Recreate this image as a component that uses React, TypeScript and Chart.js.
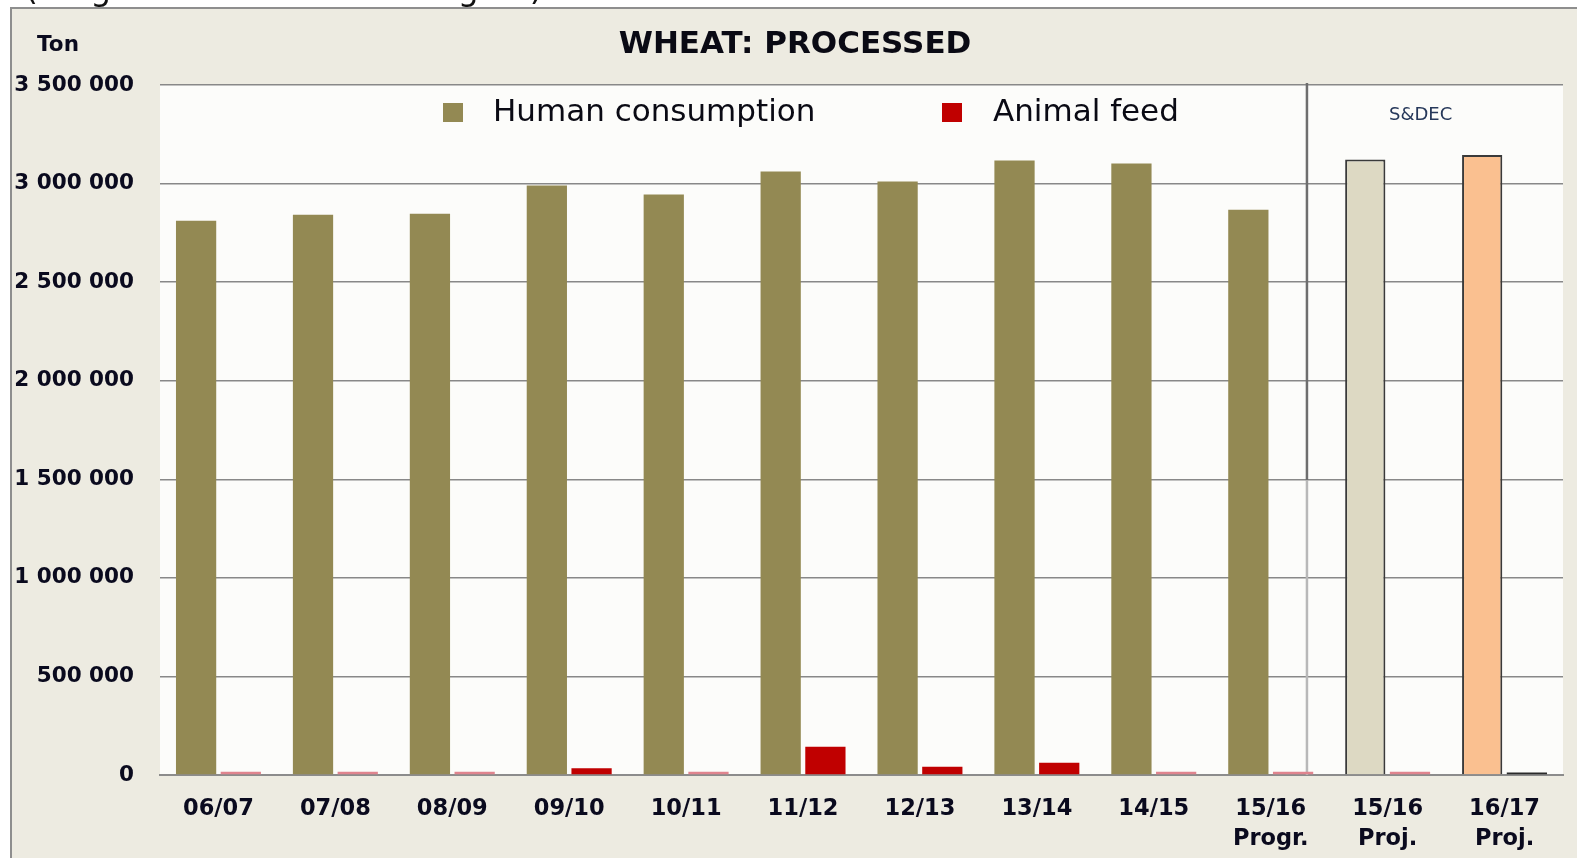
import React, { useEffect, useRef } from "react";
import { Chart, registerables } from "chart.js";

Chart.register(...registerables);

const FONT = '"DejaVu Sans", sans-serif';

const HEADER_TEXT = "(Progressive: October - August)";
const TITLE = "WHEAT: PROCESSED";
const UNIT = "Ton";
const SECTION_LABEL = "S&DEC";

const CATEGORIES: string[][] = [
  ["06/07"],
  ["07/08"],
  ["08/09"],
  ["09/10"],
  ["10/11"],
  ["11/12"],
  ["12/13"],
  ["13/14"],
  ["14/15"],
  ["15/16", "Progr."],
  ["15/16", "Proj."],
  ["16/17", "Proj."],
];

const HUMAN_LABEL = "Human consumption";
const HUMAN = [
  2811000, 2842000, 2847000, 2990000, 2944000, 3061000, 3010000, 3117000,
  3102000, 2867000, 3122000, 3145000,
];

const FEED_LABEL = "Animal feed";
const FEED = [
  16000, 16000, 16000, 34000, 16000, 143000, 42000, 62000, 16000, 16000, 16000, 13000,
];

const Y_MIN = 0;
const Y_MAX = 3500000;
const Y_STEP = 500000;

// styles
const OLIVE = "#938953";
const RED = "#C00000";
const PINK = "#E0848E";
const HUMAN_COLORS = [
  OLIVE, OLIVE, OLIVE, OLIVE, OLIVE, OLIVE, OLIVE, OLIVE, OLIVE, OLIVE,
  "#DDD9C3", "#FAC090",
];
const HUMAN_BORDER_WIDTHS = [0, 0, 0, 0, 0, 0, 0, 0, 0, 0, 2, 2];
const FEED_COLORS = [
  PINK, PINK, PINK, RED, PINK, RED, RED, RED, PINK, PINK, PINK, "#2a2a2a",
];

const formatTick = (v: number) =>
  String(v).replace(/\B(?=(\d{3})+(?!\d))/g, " ");

const separatorX = (chart: any) => {
  const x = chart.scales.x;
  const p9 = x.getPixelForValue(9);
  const p10 = x.getPixelForValue(10);
  return p9 + 0.31 * (p10 - p9);
};

const backgroundPlugin = {
  id: "bgFrame",
  beforeDraw(chart: any) {
    const { ctx, width, height, chartArea: a } = chart;
    ctx.save();
    ctx.fillStyle = "#ffffff";
    ctx.fillRect(0, 0, width, height);
    ctx.fillStyle = "#111111";
    ctx.font = `33px ${FONT}`;
    ctx.textAlign = "left";
    ctx.textBaseline = "alphabetic";
    ctx.fillText(HEADER_TEXT, 25, 0);
    ctx.fillStyle = "#EDEBE1";
    ctx.fillRect(11, 8, width - 11, height - 8);
    ctx.strokeStyle = "#8e8e8e";
    ctx.lineWidth = 2;
    ctx.beginPath();
    ctx.moveTo(11, height);
    ctx.lineTo(11, 8);
    ctx.lineTo(width, 8);
    ctx.stroke();
    ctx.fillStyle = "#FCFCFA";
    ctx.fillRect(a.left, a.top, a.right - a.left, a.bottom - a.top);
    ctx.restore();
  },
  beforeDatasetsDraw(chart: any) {
    const { ctx, chartArea: a, scales } = chart;
    const sx = separatorX(chart);
    const split = scales.y.getPixelForValue(1500000) + 1;
    ctx.save();
    ctx.lineWidth = 2.5;
    ctx.strokeStyle = "#6e6e6e";
    ctx.beginPath();
    ctx.moveTo(sx, a.top - 2);
    ctx.lineTo(sx, split);
    ctx.stroke();
    ctx.strokeStyle = "#b8b8b8";
    ctx.beginPath();
    ctx.moveTo(sx, split);
    ctx.lineTo(sx, a.bottom);
    ctx.stroke();
    ctx.restore();
  },
  afterDraw(chart: any) {
    const { ctx, chartArea: a } = chart;
    ctx.save();
    // title
    ctx.fillStyle = "#0a0a14";
    ctx.font = `bold 31px ${FONT}`;
    ctx.textAlign = "center";
    ctx.textBaseline = "middle";
    ctx.fillText(TITLE, 795, 45);
    // unit label
    ctx.fillStyle = "#0a0a1e";
    ctx.font = `bold 21.5px ${FONT}`;
    ctx.fillText(UNIT, 58, 45);
    // section label
    const sx = separatorX(chart);
    ctx.fillStyle = "#26385a";
    ctx.font = `18px ${FONT}`;
    ctx.fillText(SECTION_LABEL, sx + (a.right - sx) * 0.444, 115);
    // legend
    const items = [
      { label: chart.data.datasets[0].label, color: OLIVE, box: 443, text: 493 },
      { label: chart.data.datasets[1].label, color: RED, box: 942, text: 993 },
    ];
    ctx.font = `31px ${FONT}`;
    ctx.textAlign = "left";
    for (const it of items) {
      ctx.fillStyle = it.color;
      ctx.fillRect(it.box, 103, 20, 19);
      ctx.fillStyle = "#0a0a14";
      ctx.fillText(it.label, it.text, 113);
    }
    ctx.restore();
  },
};

export default function App() {
  const ref = useRef<HTMLCanvasElement | null>(null);

  useEffect(() => {
    document.body.style.margin = "0";
    document.body.style.overflow = "hidden";
    const canvas = ref.current;
    if (!canvas) return;
    Chart.defaults.font.family = FONT;
    const chart = new Chart(canvas, {
      type: "bar",
      data: {
        labels: CATEGORIES,
        datasets: [
          {
            label: HUMAN_LABEL,
            data: HUMAN,
            backgroundColor: HUMAN_COLORS,
            borderColor: "#3a3a3a",
            borderWidth: HUMAN_BORDER_WIDTHS,
            categoryPercentage: 0.765,
            barPercentage: 0.9,
          },
          {
            label: FEED_LABEL,
            data: FEED,
            backgroundColor: FEED_COLORS,
            borderWidth: 0,
            categoryPercentage: 0.765,
            barPercentage: 0.9,
          },
        ],
      },
      options: {
        responsive: false,
        animation: false,
        devicePixelRatio: 1,
        layout: { padding: { left: 0, right: 14, top: 85, bottom: 0 } },
        plugins: {
          legend: { display: false },
          tooltip: { enabled: false },
          title: { display: false },
        },
        scales: {
          x: {
            grid: { display: false, drawTicks: false },
            border: { display: true, color: "#8c8c8c", width: 2 },
            ticks: {
              color: "#0a0a1e",
              font: { family: FONT, size: 22.5, weight: "bold", lineHeight: 1.33 },
              padding: 19,
              maxRotation: 0,
              autoSkip: false,
            },
            afterFit: (s: any) => {
              s.height = 83;
            },
          },
          y: {
            min: Y_MIN,
            max: Y_MAX,
            grid: { color: "#888888", lineWidth: 1.5, drawTicks: false },
            border: { display: false },
            ticks: {
              stepSize: Y_STEP,
              color: "#0a0a1e",
              font: { family: FONT, size: 21.5, weight: "bold" },
              padding: 26,
              callback: (v: any) => formatTick(Number(v)),
            },
            afterFit: (s: any) => {
              s.width = 160;
            },
          },
        },
      },
      plugins: [backgroundPlugin],
    } as any);
    return () => chart.destroy();
  }, []);

  return (
    <div style={{ position: "absolute", left: 0, top: 0, width: 1577, height: 858 }}>
      <canvas ref={ref} width={1577} height={858} style={{ display: "block", width: 1577, height: 858 }} />
    </div>
  );
}
